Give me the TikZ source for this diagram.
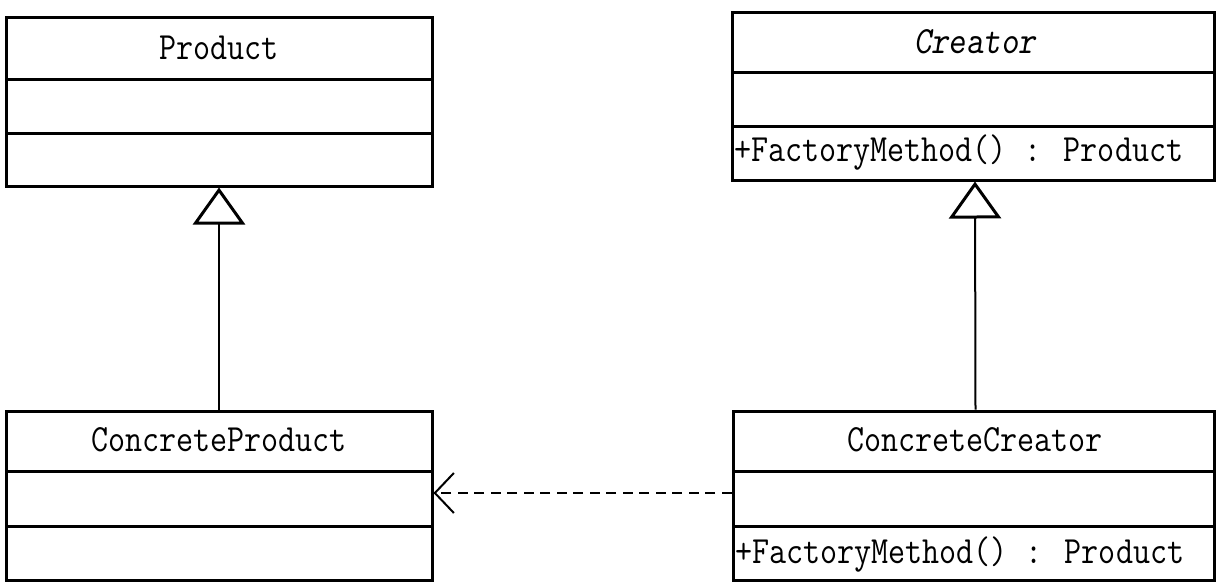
\documentclass[tikz,border=0pt]{standalone}
\usepackage{fontspec}
\usepackage{graphicx}
\usetikzlibrary{arrows.meta}

% narrow monospaced lettering for the class boxes
\newcommand{\umltxt}[1]{\scalebox{0.86}[1]{\ttfamily\fontsize{38.5}{40}\selectfont #1}}

\tikzset{
  classbox/.style={draw, line width=3pt, rectangle, inner sep=0pt},
  divider/.style={line width=3pt},
  label/.style={inner sep=0pt, anchor=base},
  member/.style={inner sep=0pt, anchor=base west},
  inherit/.style={line width=2pt,
    -{Triangle[open, length=37pt, width=52pt, line width=3pt]}},
  depends/.style={line width=2.7pt, dash pattern=on 10pt off 6.5pt,
    -{Straight Barb[length=19pt, width=40pt, line width=2pt]}}
}

\begin{document}
\begin{tikzpicture}[x=1pt, y=-1pt]
\useasboundingbox (0,0) rectangle (1227,587);

% Product
\node[classbox, minimum width=426pt, minimum height=169pt] (product) at (219,101.5) {};
\draw[divider] (6,79) -- (432,79);
\draw[divider] (6,133) -- (432,133);
\node[label] (productname) at (219,59) {\umltxt{Product}};

% Creator (abstract, so its name is slanted)
\node[classbox, minimum width=482pt, minimum height=168pt] (creator) at (973,96) {};
\draw[divider] (732,72) -- (1214,72);
\draw[divider] (732,126) -- (1214,126);
\node[label] (creatorname) at (975,53) {\umltxt{\slshape Creator}};
\node[member] (creatorop) at (734,161) {\umltxt{+FactoryMethod() : Product}};

% ConcreteProduct
\node[classbox, minimum width=426pt, minimum height=169pt] (cproduct) at (219,495.5) {};
\draw[divider] (6,471) -- (432,471);
\draw[divider] (6,526) -- (432,526);
\node[label] (cproductname) at (219,451) {\umltxt{ConcreteProduct}};

% ConcreteCreator
\node[classbox, minimum width=481pt, minimum height=169pt] (ccreator) at (973.5,495.5) {};
\draw[divider] (733,471) -- (1214,471);
\draw[divider] (733,526) -- (1214,526);
\node[label] (ccreatorname) at (975,451) {\umltxt{ConcreteCreator}};
\node[member] (ccreatorop) at (735,563) {\umltxt{+FactoryMethod() : Product}};

% generalisations
\draw[inherit] (cproduct.north) -- (product.south);
\draw[inherit] ([xshift=2pt]ccreator.north) -- ([xshift=2pt]creator.south);

% dependency
\draw[depends] ([yshift=2.5pt]ccreator.west) -- ([yshift=2.5pt]cproduct.east);
\end{tikzpicture}
\end{document}
